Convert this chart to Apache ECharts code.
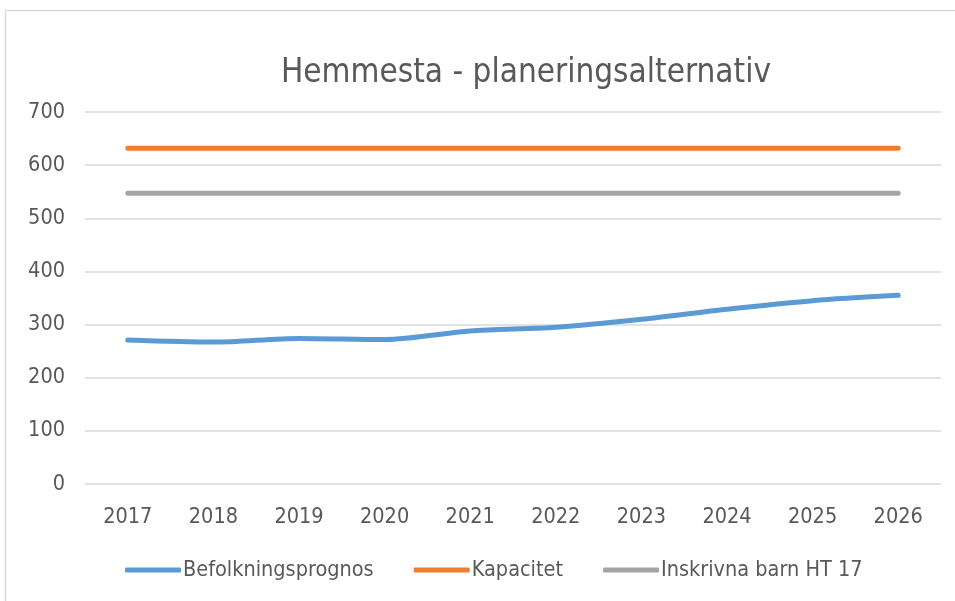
<!DOCTYPE html>
<html>
<head>
<meta charset="utf-8">
<script src="https://cdn.jsdelivr.net/npm/echarts@6/dist/echarts.min.js"></script>
<style>
  html, body { margin: 0; padding: 0; background: #fff; }
  #chart { width: 955px; height: 601px; }
</style>
</head>
<body>
<div id="chart"></div>
<script>
var years = ['2017', '2018', '2019', '2020', '2021', '2022', '2023', '2024', '2025', '2026']
var befolkningsprognos = [271, 267, 274, 272, 288, 295, 310, 329, 345, 355]
var kapacitet = [632, 632, 632, 632, 632, 632, 632, 632, 632, 632]
var inskrivna = [547, 547, 547, 547, 547, 547, 547, 547, 547, 547]

var font = "'DejaVu Sans Condensed', sans-serif"
var chart = echarts.init(document.getElementById('chart'))

chart.setOption({
  animation: false,
  graphic: [{
    type: 'rect',
    shape: { x: 5.5, y: 10.5, width: 960, height: 600 },
    style: { fill: 'none', stroke: '#d9d9d9', lineWidth: 1.5 },
    silent: true
  }],
  title: {
    text: 'Hemmesta - planeringsalternativ',
    left: 521,
    textAlign: 'center',
    top: 52,
    textStyle: { fontFamily: font, fontSize: 33, fontWeight: 'normal', color: '#595959' }
  },
  grid: { left: 85, right: 14, top: 112, bottom: 117 },
  xAxis: {
    type: 'category',
    data: years,
    axisLine: { show: false },
    axisTick: { show: false },
    axisLabel: { fontFamily: font, fontSize: 21.5, color: '#595959', margin: 22 }
  },
  yAxis: {
    type: 'value',
    min: 0,
    max: 700,
    interval: 100,
    axisLine: { show: false },
    axisTick: { show: false },
    axisLabel: { fontFamily: font, fontSize: 21.5, color: '#595959', margin: 20 },
    splitLine: { lineStyle: { color: '#d9d9d9', width: 1.5 } }
  },
  legend: {
    bottom: 15,
    left: 120,
    itemWidth: 56,
    itemHeight: 5,
    itemGap: 40,
    icon: 'roundRect',
    textStyle: { fontFamily: font, fontSize: 21.5, color: '#595959', padding: [0, 0, 0, -3] },
    data: ['Befolkningsprognos', 'Kapacitet', 'Inskrivna barn HT 17']
  },
  series: [
    {
      name: 'Befolkningsprognos',
      type: 'line',
      data: befolkningsprognos,
      smooth: 0.3,
      showSymbol: false,
      color: '#5B9BD5',
      lineStyle: { width: 5, cap: 'round' }
    },
    {
      name: 'Kapacitet',
      type: 'line',
      data: kapacitet,
      showSymbol: false,
      color: '#ED7D31',
      lineStyle: { width: 5, cap: 'round' }
    },
    {
      name: 'Inskrivna barn HT 17',
      type: 'line',
      data: inskrivna,
      showSymbol: false,
      color: '#A5A5A5',
      lineStyle: { width: 5, cap: 'round' }
    }
  ]
})
</script>
</body>
</html>
